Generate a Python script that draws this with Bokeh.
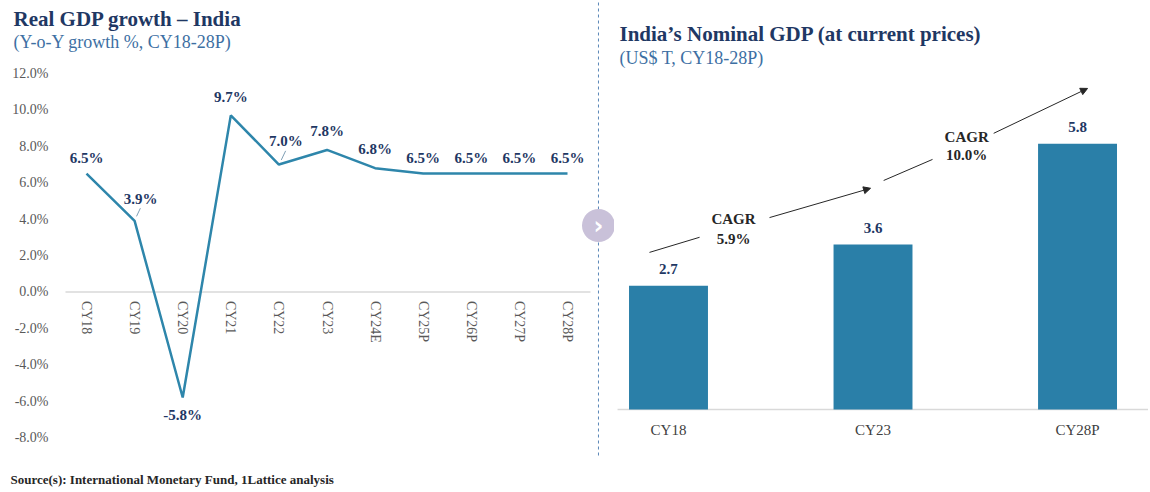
from bokeh.plotting import figure
from bokeh.layouts import row
from bokeh.models import (FixedTicker, PrintfTickFormatter, Label, LabelSet, Arrow,
                          NormalHead, ColumnDataSource, Range1d)
from bokeh.core.properties import value
from bokeh.embed import file_html
from bokeh.resources import INLINE

# ---------------- data ----------------
years = ["CY18", "CY19", "CY20", "CY21", "CY22", "CY23", "CY24E", "CY25P", "CY26P", "CY27P", "CY28P"]
growth = [6.5, 3.9, -5.8, 9.7, 7.0, 7.8, 6.8, 6.5, 6.5, 6.5, 6.5]
growth_text = ["6.5%", "3.9%", "-5.8%", "9.7%", "7.0%", "7.8%", "6.8%", "6.5%", "6.5%", "6.5%", "6.5%"]
growth_ticks = [-8, -6, -4, -2, 0, 2, 4, 6, 8, 10, 12]

gdp_years = ["CY18", "CY23", "CY28P"]
gdp = [2.7, 3.6, 5.8]
gdp_text = ["2.7", "3.6", "5.8"]
cagr_text = [("CAGR", "5.9%"), ("CAGR", "10.0%")]

# label offsets (style only)
lab_dx = [0, 6, 0, 0, 7, 0, 0, 0, 0, 0, 0]
lab_dy = [16, 22, -18, 18, 24, 19, 19, 16, 16, 16, 16]

SERIF = "Liberation Serif"
NAVY = "#1f3864"
STEEL = "#3d6fa3"
LINE = "#2e86ab"
BAR = "#2a7fa8"
GRAYTXT = "#595959"
AXIS = "#d9d9d9"
DARK = "#262626"

H = 490
LW = 614
RW = 534

# ---------------- left: line chart ----------------
lx = list(range(len(years)))
L = figure(width=LW, height=H, x_range=Range1d(-1.788, 10.977), y_range=Range1d(-10.912, 16.011),
           output_backend="svg", toolbar_location=None,
           min_border_left=0, min_border_right=0, min_border_top=0, min_border_bottom=0)
L.outline_line_color = None
L.grid.visible = False

# zero line
L.segment(x0=[-0.437], y0=[0], x1=[10.478], y1=[0], line_color=AXIS, line_width=1.5)
L.line(lx, growth, line_color=LINE, line_width=2.5)

# small leader lines for two labels
L.segment(x0=[1.04, 4.05], y0=[4.15, 7.25], x1=[1.12, 4.14], y1=[4.6, 7.75],
          line_color="#7f9fb5", line_width=1)

L.xaxis.fixed_location = 0
L.xaxis.ticker = FixedTicker(ticks=lx)
L.xaxis.major_label_overrides = {i: y for i, y in zip(lx, years)}
L.xaxis.major_label_orientation = "vertical"
L.xaxis.axis_line_color = None
L.xaxis.major_tick_line_color = None
L.xaxis.minor_tick_line_color = None
L.xaxis.major_tick_out = 0
L.xaxis.major_label_standoff = 9
L.xaxis.major_label_text_font = SERIF
L.xaxis.major_label_text_font_size = "14px"
L.xaxis.major_label_text_color = GRAYTXT

L.yaxis.fixed_location = -0.499
L.yaxis.ticker = FixedTicker(ticks=growth_ticks)
L.yaxis.formatter = PrintfTickFormatter(format="%.1f%%")
L.yaxis.axis_line_color = None
L.yaxis.major_tick_line_color = None
L.yaxis.minor_tick_line_color = None
L.yaxis.major_tick_out = 0
L.yaxis.major_label_standoff = 14
L.yaxis.major_label_text_font = SERIF
L.yaxis.major_label_text_font_size = "14px"
L.yaxis.major_label_text_color = GRAYTXT

src = ColumnDataSource(dict(x=lx, y=growth, t=growth_text, dx=lab_dx, dy=lab_dy))
L.add_layout(LabelSet(x="x", y="y", text="t", x_offset="dx", y_offset="dy", source=src,
                      text_align="center", text_baseline="middle", text_font=SERIF,
                      text_font_style="bold", text_font_size="15px", text_color=NAVY))

L.add_layout(Label(x=13, y=H - 18, x_units="screen", y_units="screen", text="Real GDP growth \u2013 India",
                   text_font=SERIF, text_font_style="bold", text_font_size="21px", text_color=NAVY,
                   text_align="left", text_baseline="middle"))
L.add_layout(Label(x=13, y=H - 41, x_units="screen", y_units="screen", text="(Y-o-Y growth %, CY18-28P)",
                   text_font=SERIF, text_font_size="18px", text_color=STEEL,
                   text_align="left", text_baseline="middle"))
L.add_layout(Label(x=10, y=H - 479, x_units="screen", y_units="screen",
                   text="Source(s): International Monetary Fund, 1Lattice analysis",
                   text_font=SERIF, text_font_style="bold", text_font_size="13px", text_color=DARK,
                   text_align="left", text_baseline="middle"))

# separator and nav button
L.segment(x0=[10.644], y0=[-8.989], x1=[10.644], y1=[16.011], line_color="#5b87b8",
          line_width=1, line_dash="3 3")
L.scatter(x=[10.644], y=[3.648], size=33, marker="circle", fill_color="#c9c1d9", line_color=None)
L.text(x=[10.644], y=[3.648], text=["\u203a"], text_font=value("DejaVu Sans"), text_font_style="bold",
       text_font_size="24px", text_color="white", text_align="center", text_baseline="middle")

# ---------------- right: bar chart ----------------
xpos = list(range(len(gdp_years)))
R = figure(width=RW, height=H, x_range=Range1d(-0.264, 2.347), y_range=Range1d(-1.769, 8.930),
           output_backend="svg", toolbar_location=None,
           min_border_left=0, min_border_right=0, min_border_top=0, min_border_bottom=0)
R.outline_line_color = None
R.grid.visible = False
R.yaxis.visible = False

# baseline
R.segment(x0=[-0.249], y0=[0], x1=[2.347], y1=[0], line_color=AXIS, line_width=1.5)

R.vbar(x=xpos, top=gdp, width=0.386, fill_color=BAR, line_color=None)

R.xaxis.fixed_location = 0
R.xaxis.ticker = FixedTicker(ticks=xpos)
R.xaxis.major_label_overrides = {i: lab for i, lab in zip(xpos, gdp_years)}
R.xaxis.axis_line_color = None
R.xaxis.major_tick_line_color = None
R.xaxis.minor_tick_line_color = None
R.xaxis.major_tick_out = 0
R.xaxis.major_label_standoff = 13
R.xaxis.major_label_text_font = SERIF
R.xaxis.major_label_text_font_size = "15px"
R.xaxis.major_label_text_color = "#404040"

bsrc = ColumnDataSource(dict(x=xpos, y=gdp, t=gdp_text))
R.add_layout(LabelSet(x="x", y="y", text="t", y_offset=17, source=bsrc,
                      text_align="center", text_baseline="middle", text_font=SERIF,
                      text_font_style="bold", text_font_size="15px", text_color=NAVY))

R.add_layout(Label(x=5, y=H - 33, x_units="screen", y_units="screen",
                   text="India\u2019s Nominal GDP (at current prices)",
                   text_font=SERIF, text_font_style="bold", text_font_size="21px", text_color=NAVY,
                   text_align="left", text_baseline="middle"))
R.add_layout(Label(x=5, y=H - 57, x_units="screen", y_units="screen", text="(US$ T, CY18-28P)",
                   text_font=SERIF, text_font_size="18px", text_color=STEEL,
                   text_align="left", text_baseline="middle"))

# CAGR arrows (tail segment + head segment around the text)
for (xs, ys, xe, ye) in [(-0.093, 3.43, 0.152, 3.76), (1.052, 5.00, 1.291, 5.46)]:
    R.add_layout(Arrow(end=None, x_start=xs, y_start=ys, x_end=xe, y_end=ye,
                       line_color=DARK, line_width=1))
for (xs, ys, xe, ye) in [(0.494, 4.19, 0.988, 4.83), (1.590, 6.03, 2.049, 7.01)]:
    R.add_layout(Arrow(end=NormalHead(size=7, fill_color=DARK, line_color=DARK),
                       x_start=xs, y_start=ys, x_end=xe, y_end=ye,
                       line_color=DARK, line_width=1))
for (cx, y1, y2), (t1, t2) in zip([(0.318, 4.15, 3.73), (1.458, 5.94, 5.55)], cagr_text):
    for yy, tt in [(y1, t1), (y2, t2)]:
        R.add_layout(Label(x=cx, y=yy, text=tt, text_font=SERIF, text_font_style="bold",
                           text_font_size="15px", text_color=DARK,
                           text_align="center", text_baseline="middle"))

layout = row(L, R)
open("out.html", "w").write(file_html(layout, INLINE))
